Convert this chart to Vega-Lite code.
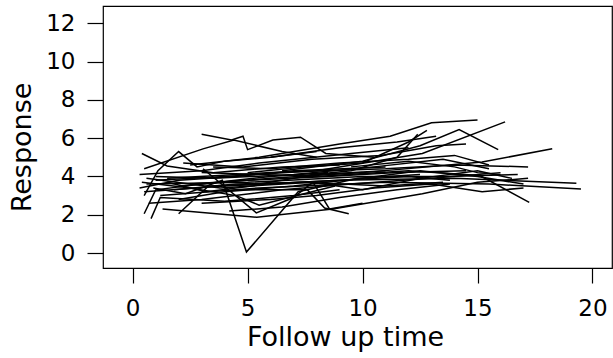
{
  "$schema": "https://vega.github.io/schema/vega-lite/v6.json",
  "autosize": "none",
  "width": 509,
  "height": 262,
  "padding": {"left": 103, "top": 6, "right": 1, "bottom": 90},
  "background": "white",
  "config": {
    "view": {"stroke": "black", "strokeWidth": 1.2},
    "font": "DejaVu Sans"
  },
  "data": {"values": [
    {"s":1,"t":0.9,"y":3.4},{"s":1,"t":2.3,"y":3.1},{"s":1,"t":3.9,"y":3.8},{"s":1,"t":4.95,"y":0.05},{"s":1,"t":7.2,"y":3.2},{"s":1,"t":9.8,"y":3.9},{"s":1,"t":12.5,"y":4.1},
    {"s":2,"t":3.0,"y":6.2},{"s":2,"t":4.3,"y":5.9},{"s":2,"t":4.8,"y":6.1},{"s":2,"t":5.0,"y":5.4},{"s":2,"t":6.1,"y":5.9},{"s":2,"t":7.3,"y":6.05},{"s":2,"t":8.4,"y":5.2},{"s":2,"t":10.5,"y":5.0},
    {"s":3,"t":2.5,"y":4.6},{"s":3,"t":5.5,"y":5.0},{"s":3,"t":9.0,"y":5.7},{"s":3,"t":11.2,"y":6.1},{"s":3,"t":13.0,"y":6.8},{"s":3,"t":15.0,"y":6.95},
    {"s":4,"t":1.0,"y":3.8},{"s":4,"t":4.0,"y":4.0},{"s":4,"t":8.0,"y":4.3},{"s":4,"t":12.6,"y":5.2},{"s":4,"t":16.2,"y":6.85},
    {"s":5,"t":6.5,"y":4.3},{"s":5,"t":10.0,"y":4.8},{"s":5,"t":12.5,"y":5.6},{"s":5,"t":14.2,"y":6.45},{"s":5,"t":15.9,"y":5.4},
    {"s":6,"t":2.0,"y":3.5},{"s":6,"t":6.0,"y":3.9},{"s":6,"t":10.0,"y":4.2},{"s":6,"t":15.2,"y":4.75},{"s":6,"t":18.25,"y":5.45},
    {"s":7,"t":0.5,"y":3.2},{"s":7,"t":4.0,"y":3.5},{"s":7,"t":9.0,"y":3.8},{"s":7,"t":14.0,"y":3.9},{"s":7,"t":19.3,"y":3.65},
    {"s":8,"t":1.2,"y":3.0},{"s":8,"t":5.5,"y":3.4},{"s":8,"t":11.0,"y":3.7},{"s":8,"t":15.5,"y":3.6},{"s":8,"t":19.5,"y":3.35},
    {"s":9,"t":3.0,"y":4.2},{"s":9,"t":8.0,"y":4.0},{"s":9,"t":12.0,"y":4.3},{"s":9,"t":15.1,"y":4.05},{"s":9,"t":17.25,"y":2.65},
    {"s":10,"t":1.5,"y":3.9},{"s":10,"t":6.0,"y":4.2},{"s":10,"t":11.0,"y":4.4},{"s":10,"t":14.0,"y":4.6},{"s":10,"t":17.2,"y":4.5},
    {"s":11,"t":0.6,"y":3.6},{"s":11,"t":5.0,"y":3.7},{"s":11,"t":10.0,"y":4.0},{"s":11,"t":13.5,"y":4.0},{"s":11,"t":16.75,"y":4.1},
    {"s":12,"t":2.0,"y":2.8},{"s":12,"t":4.5,"y":3.3},{"s":12,"t":7.6,"y":3.3},{"s":12,"t":8.35,"y":2.35},{"s":12,"t":9.4,"y":2.05},
    {"s":13,"t":1.3,"y":2.3},{"s":13,"t":5.4,"y":1.87},{"s":13,"t":8.7,"y":2.3},{"s":13,"t":12.6,"y":3.1},{"s":13,"t":15.0,"y":3.7},{"s":13,"t":17.2,"y":3.9},
    {"s":14,"t":0.5,"y":2.05},{"s":14,"t":1.0,"y":3.3},{"s":14,"t":3.0,"y":3.6},{"s":14,"t":6.0,"y":4.0},{"s":14,"t":8.5,"y":4.2},
    {"s":15,"t":0.8,"y":1.8},{"s":15,"t":1.2,"y":2.9},{"s":15,"t":4.0,"y":2.7},{"s":15,"t":7.0,"y":3.0},{"s":15,"t":9.0,"y":3.3},
    {"s":16,"t":0.4,"y":5.2},{"s":16,"t":1.5,"y":4.55},{"s":16,"t":3.5,"y":4.2},{"s":16,"t":6.5,"y":4.5},{"s":16,"t":9.0,"y":4.6},
    {"s":17,"t":0.5,"y":3.0},{"s":17,"t":1.1,"y":4.3},{"s":17,"t":2.0,"y":5.3},{"s":17,"t":2.8,"y":4.5},{"s":17,"t":4.0,"y":4.8},{"s":17,"t":6.0,"y":5.0},{"s":17,"t":8.0,"y":5.3},
    {"s":18,"t":0.3,"y":4.1},{"s":18,"t":3.0,"y":4.3},{"s":18,"t":5.5,"y":4.7},{"s":18,"t":9.5,"y":5.2},{"s":18,"t":12.0,"y":5.5},
    {"s":19,"t":0.4,"y":3.7},{"s":19,"t":2.5,"y":3.4},{"s":19,"t":4.5,"y":3.0},{"s":19,"t":5.5,"y":2.5},{"s":19,"t":6.8,"y":2.9},{"s":19,"t":8.8,"y":3.5},
    {"s":20,"t":1.0,"y":4.0},{"s":20,"t":3.5,"y":3.9},{"s":20,"t":7.0,"y":4.1},{"s":20,"t":10.5,"y":4.5},{"s":20,"t":13.5,"y":4.9},{"s":20,"t":15.5,"y":4.4},
    {"s":21,"t":2.5,"y":3.6},{"s":21,"t":5.0,"y":3.8},{"s":21,"t":8.5,"y":4.0},{"s":21,"t":11.5,"y":4.2},{"s":21,"t":14.5,"y":4.3},
    {"s":22,"t":0.7,"y":2.6},{"s":22,"t":3.0,"y":2.8},{"s":22,"t":6.5,"y":3.3},{"s":22,"t":9.5,"y":3.6},{"s":22,"t":13.0,"y":3.9},{"s":22,"t":16.0,"y":4.2},
    {"s":23,"t":1.8,"y":3.3},{"s":23,"t":4.5,"y":3.6},{"s":23,"t":7.5,"y":3.7},{"s":23,"t":11.0,"y":3.5},{"s":23,"t":13.5,"y":3.7},
    {"s":24,"t":3.5,"y":4.5},{"s":24,"t":6.0,"y":4.4},{"s":24,"t":9.0,"y":4.7},{"s":24,"t":12.0,"y":4.9},{"s":24,"t":14.0,"y":5.1},{"s":24,"t":15.5,"y":4.6},
    {"s":25,"t":4.0,"y":3.2},{"s":25,"t":7.0,"y":3.5},{"s":25,"t":10.0,"y":3.9},{"s":25,"t":12.5,"y":4.3},{"s":25,"t":15.0,"y":4.0},{"s":25,"t":17.0,"y":3.6},
    {"s":26,"t":2.2,"y":4.7},{"s":26,"t":4.8,"y":4.5},{"s":26,"t":7.8,"y":4.9},{"s":26,"t":10.8,"y":5.1},{"s":26,"t":13.2,"y":5.6},{"s":26,"t":14.5,"y":5.7},
    {"s":27,"t":5.0,"y":4.2},{"s":27,"t":7.5,"y":4.5},{"s":27,"t":10.0,"y":4.7},{"s":27,"t":12.0,"y":5.8},{"s":27,"t":12.8,"y":6.4},
    {"s":28,"t":1.5,"y":3.7},{"s":28,"t":3.2,"y":3.2},{"s":28,"t":5.8,"y":3.6},{"s":28,"t":9.0,"y":3.8},{"s":28,"t":12.0,"y":4.0},{"s":28,"t":13.8,"y":3.8},
    {"s":29,"t":3.0,"y":2.6},{"s":29,"t":6.0,"y":2.8},{"s":29,"t":8.0,"y":3.0},{"s":29,"t":10.5,"y":3.4},{"s":29,"t":13.0,"y":3.6},{"s":29,"t":15.2,"y":3.2},{"s":29,"t":17.0,"y":3.4},
    {"s":30,"t":0.3,"y":3.4},{"s":30,"t":2.0,"y":3.8},{"s":30,"t":4.5,"y":4.0},{"s":30,"t":7.0,"y":4.3},{"s":30,"t":11.0,"y":4.5},
    {"s":31,"t":6.0,"y":5.0},{"s":31,"t":9.0,"y":5.5},{"s":31,"t":11.5,"y":5.8},{"s":31,"t":13.2,"y":6.1},
    {"s":32,"t":7.0,"y":4.0},{"s":32,"t":9.5,"y":4.3},{"s":32,"t":11.5,"y":5.0},{"s":32,"t":12.4,"y":6.2},
    {"s":33,"t":0.6,"y":3.9},{"s":33,"t":3.8,"y":3.4},{"s":33,"t":7.8,"y":3.7},{"s":33,"t":10.0,"y":3.3},{"s":33,"t":12.5,"y":3.9},{"s":33,"t":15.0,"y":4.3},{"s":33,"t":16.5,"y":3.9},
    {"s":34,"t":4.2,"y":2.2},{"s":34,"t":6.5,"y":2.4},{"s":34,"t":9.0,"y":2.9},{"s":34,"t":11.5,"y":3.3},{"s":34,"t":13.8,"y":3.6},
    {"s":35,"t":9.5,"y":4.5},{"s":35,"t":12.0,"y":4.8},{"s":35,"t":14.0,"y":4.5},{"s":35,"t":15.0,"y":4.2},{"s":35,"t":16.0,"y":4.1},
    {"s":36,"t":0.5,"y":4.4},{"s":36,"t":3.06,"y":5.44},{"s":36,"t":4.4,"y":5.9},{"s":36,"t":6.5,"y":5.3},{"s":36,"t":8.0,"y":5.0},
    {"s":37,"t":2.0,"y":2.05},{"s":37,"t":3.3,"y":3.5},{"s":37,"t":5.5,"y":3.6},{"s":37,"t":8.0,"y":4.1},{"s":37,"t":11.0,"y":4.3},
    {"s":38,"t":3.06,"y":4.4},{"s":38,"t":5.38,"y":2.1},{"s":38,"t":7.0,"y":2.9},{"s":38,"t":7.84,"y":3.7},{"s":38,"t":8.56,"y":2.3},{"s":38,"t":10.0,"y":2.6}
  ]},
  "mark": {"type": "line", "color": "black", "strokeWidth": 1.5, "clip": true},
  "encoding": {
    "detail": {"field": "s", "type": "nominal"},
    "x": {
      "field": "t", "type": "quantitative",
      "scale": {"domain": [-1.29, 20.85], "nice": false, "zero": false},
      "axis": {
        "values": [0, 5, 10, 15, 20], "grid": false, "domain": false,
        "tickSize": 15, "tickColor": "black", "tickWidth": 1.2,
        "labelFontSize": 23, "labelColor": "black", "labelFont": "DejaVu Sans",
        "labelBaseline": "alphabetic", "labelPadding": 32,
        "title": "Follow up time", "titleFontSize": 27, "titleFontWeight": "normal",
        "titleColor": "black", "titleFont": "DejaVu Sans",
        "titleBaseline": "alphabetic", "titleAnchor": null, "titleX": 242, "titleY": 77
      }
    },
    "y": {
      "field": "y", "type": "quantitative",
      "scale": {"domain": [-0.78, 12.9], "nice": false, "zero": false},
      "axis": {
        "values": [0, 2, 4, 6, 8, 10, 12], "grid": false, "domain": false,
        "tickSize": 16, "tickColor": "black", "tickWidth": 1.2,
        "labelFontSize": 23, "labelColor": "black", "labelFont": "DejaVu Sans",
        "labelPadding": 12, "labelBaseline": "middle",
        "title": "Response", "titleFontSize": 27, "titleFontWeight": "normal",
        "titleColor": "black", "titleFont": "DejaVu Sans",
        "titleAngle": -90, "titleBaseline": "alphabetic", "titleAlign": "center",
        "titleAnchor": null, "titleX": -73, "titleY": 141
      }
    }
  }
}
